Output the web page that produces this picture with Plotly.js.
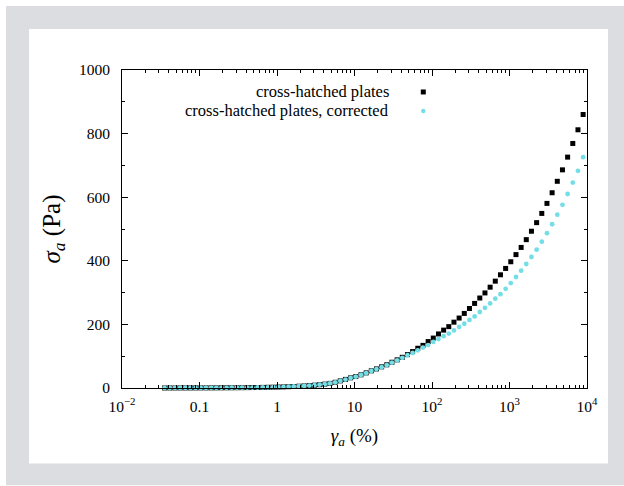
<!DOCTYPE html>
<html>
<head>
<meta charset="utf-8">
<script src="https://cdn.plot.ly/plotly-3.0.1.min.js"></script>
<style>
  html, body { margin: 0; padding: 0; background: #ffffff; }
  #chart { width: 624px; height: 486px; }
</style>
</head>
<body>
<div id="chart"></div>
<script>
// Strain amplitude (%)
const strain = [0.03548, 0.04137, 0.04823, 0.05623, 0.06556, 0.07644, 0.08913, 0.1039, 0.1212, 0.1413,
  0.1647, 0.1920, 0.2239, 0.2610, 0.3043, 0.3548, 0.4137, 0.4823, 0.5623, 0.6556,
  0.7644, 0.8913, 1.039, 1.212, 1.413, 1.647, 1.920, 2.239, 2.610, 3.043,
  3.548, 4.137, 4.823, 5.623, 6.556, 7.644, 8.913, 10.39, 12.12, 14.13,
  16.47, 19.20, 22.39, 26.10, 30.43, 35.48, 41.37, 48.23, 56.23, 65.56,
  76.44, 89.13, 103.9, 121.2, 141.3, 164.7, 192.0, 223.9, 261.0, 304.3,
  354.8, 413.7, 482.3, 562.3, 655.6, 764.4, 891.3, 1039, 1212, 1413,
  1647, 1920, 2239, 2610, 3043, 3548, 4137, 4823, 5623, 6556, 7644, 8913];

// Stress amplitude (Pa), cross-hatched plates
const stressRaw = [0.10, 0.12, 0.14, 0.16, 0.19, 0.22, 0.26, 0.30, 0.35, 0.41,
  0.48, 0.56, 0.65, 0.76, 0.88, 1.03, 1.20, 1.40, 1.63, 1.90,
  2.22, 2.58, 3.0, 3.5, 4.1, 4.8, 5.6, 6.5, 7.6, 8.9,
  10.4, 12.2, 14.5, 18, 22.5, 27, 32, 36, 41.5, 47.5,
  54, 60, 66.5, 73, 81, 88.5, 96.5, 105, 114.5, 125,
  134, 146, 157, 170, 182, 193, 207, 220, 234.5, 250,
  266, 283, 299, 317, 336, 356, 376, 397, 419.5, 442,
  466.5, 493, 520, 549, 580.5, 614, 650, 686, 726, 769, 812, 860];

// Stress amplitude (Pa), cross-hatched plates, corrected
const stressCorrected = [0.10, 0.12, 0.14, 0.16, 0.19, 0.22, 0.26, 0.30, 0.35, 0.41,
  0.48, 0.56, 0.65, 0.76, 0.88, 1.02, 1.19, 1.39, 1.62, 1.89,
  2.20, 2.56, 2.98, 3.47, 4.05, 4.75, 5.55, 6.45, 7.5, 8.8,
  10.3, 12.0, 14.3, 17.8, 22.2, 26.6, 31.5, 35.5, 41, 47,
  53.5, 59.5, 65.5, 72, 80, 87, 95, 103, 110, 118.5,
  127, 135, 145, 154, 163, 171, 181, 192, 202, 214,
  225, 239, 252, 266, 281, 295, 312, 330, 349, 369,
  390, 412, 435, 460, 487, 515, 545, 576, 610, 646, 683, 726];

const seriesNames = ['cross-hatched plates', 'cross-hatched plates, corrected'];
const seriesColors = ['#000000', '#74dee6'];

const xTickVals = [0.01, 0.1, 1, 10, 100, 1000, 10000];
const xTickText = ['10<sup>\u22122</sup>', '0.1', '1', '10', '10<sup>2</sup>', '10<sup>3</sup>', '10<sup>4</sup>'];

const xMinor = [];
for (let d = -2; d < 4; d++) {
  for (let m = 2; m <= 9; m++) xMinor.push(m * Math.pow(10, d));
}

const FONT = 'Liberation Serif';

const traces = [
  {
    x: strain, y: stressRaw, name: seriesNames[0], type: 'scatter', mode: 'markers',
    marker: { symbol: 'square', size: 5, color: seriesColors[0] },
    showlegend: false, cliponaxis: false
  },
  {
    x: strain, y: stressCorrected, name: seriesNames[1], type: 'scatter', mode: 'markers',
    marker: { symbol: 'circle', size: 4.8, color: seriesColors[1] },
    showlegend: false, cliponaxis: false
  }
];

// legend placement (paper coords)
const PH = 318.5, PW = 465, PB = 388.5;
const legX = (423.3 - 122) / PW, legTextX = (391 - 122) / PW;
const legY1 = (PB - 92) / PH, legY2 = (PB - 111) / PH;
const hw = 2.5 / PW, hh = 2.5 / PH;
const cw = 2.2 / PW, ch = 2.2 / PH;

const layout = {
  width: 624, height: 486,
  margin: { l: 122, r: 37, t: 70, b: 97.5 },
  paper_bgcolor: '#ffffff',
  plot_bgcolor: 'rgba(0,0,0,0)',
  font: { family: FONT, size: 15, color: '#000' },
  showlegend: false,
  xaxis: {
    type: 'log', range: [-2, 4],
    tickmode: 'array', tickvals: xTickVals, ticktext: xTickText,
    ticks: 'inside', ticklen: 6, tickwidth: 1, tickcolor: '#000',
    minor: { tickmode: 'array', tickvals: xMinor, ticks: 'inside', ticklen: 3, tickcolor: '#000', showgrid: false },
    showline: true, linecolor: '#000', linewidth: 1, mirror: 'ticks',
    showgrid: false, zeroline: false,
    tickfont: { family: FONT, size: 15.5, color: '#000' },
    ticklabelstandoff: 4,
    title: { text: '\u00a0\u00a0\u00a0\u00a0<i>\u03b3</i><sub><i>a</i></sub> (%)', font: { family: FONT, size: 19, color: '#000' }, standoff: 15 }
  },
  yaxis: {
    range: [0, 1000], tickmode: 'linear', tick0: 0, dtick: 200,
    ticks: 'inside', ticklen: 6, tickwidth: 1, tickcolor: '#000',
    minor: { dtick: 100, ticks: 'inside', ticklen: 3, tickcolor: '#000', showgrid: false },
    showline: true, linecolor: '#000', linewidth: 1, mirror: 'ticks',
    showgrid: false, zeroline: false,
    tickfont: { family: FONT, size: 15.5, color: '#000' },
    ticklabelstandoff: 8,
    title: { text: '<i>\u03c3</i><sub><i>a</i></sub> (Pa)', font: { family: FONT, size: 25, color: '#000' }, standoff: 11 }
  },
  shapes: [
    { type: 'rect', xref: 'paper', yref: 'paper', layer: 'below',
      x0: (6 - 122) / PW, x1: (624 - 122) / PW, y0: (PB - 486) / PH, y1: (PB - 6) / PH,
      fillcolor: '#dcdde0', line: { width: 0 } },
    { type: 'rect', xref: 'paper', yref: 'paper', layer: 'below',
      x0: (29 - 122) / PW, x1: (608 - 122) / PW, y0: (PB - 464) / PH, y1: (PB - 29) / PH,
      fillcolor: '#ffffff', line: { width: 0 } },
    { type: 'rect', xref: 'paper', yref: 'paper',
      x0: legX - hw, x1: legX + hw, y0: legY1 - hh, y1: legY1 + hh,
      fillcolor: seriesColors[0], line: { width: 0 } },
    { type: 'circle', xref: 'paper', yref: 'paper',
      x0: legX - cw, x1: legX + cw, y0: legY2 - ch, y1: legY2 + ch,
      fillcolor: seriesColors[1], line: { width: 0 } }
  ],
  annotations: [
    { xref: 'paper', yref: 'paper', x: legTextX, y: legY1, xanchor: 'right', yanchor: 'middle',
      text: seriesNames[0], showarrow: false, font: { family: FONT, size: 16.5, color: '#000' } },
    { xref: 'paper', yref: 'paper', x: legTextX, y: legY2, xanchor: 'right', yanchor: 'middle',
      text: seriesNames[1], showarrow: false, font: { family: FONT, size: 16.5, color: '#000' } }
  ]
};

Plotly.newPlot('chart', traces, layout, { displayModeBar: false, responsive: false });
</script>
</body>
</html>
